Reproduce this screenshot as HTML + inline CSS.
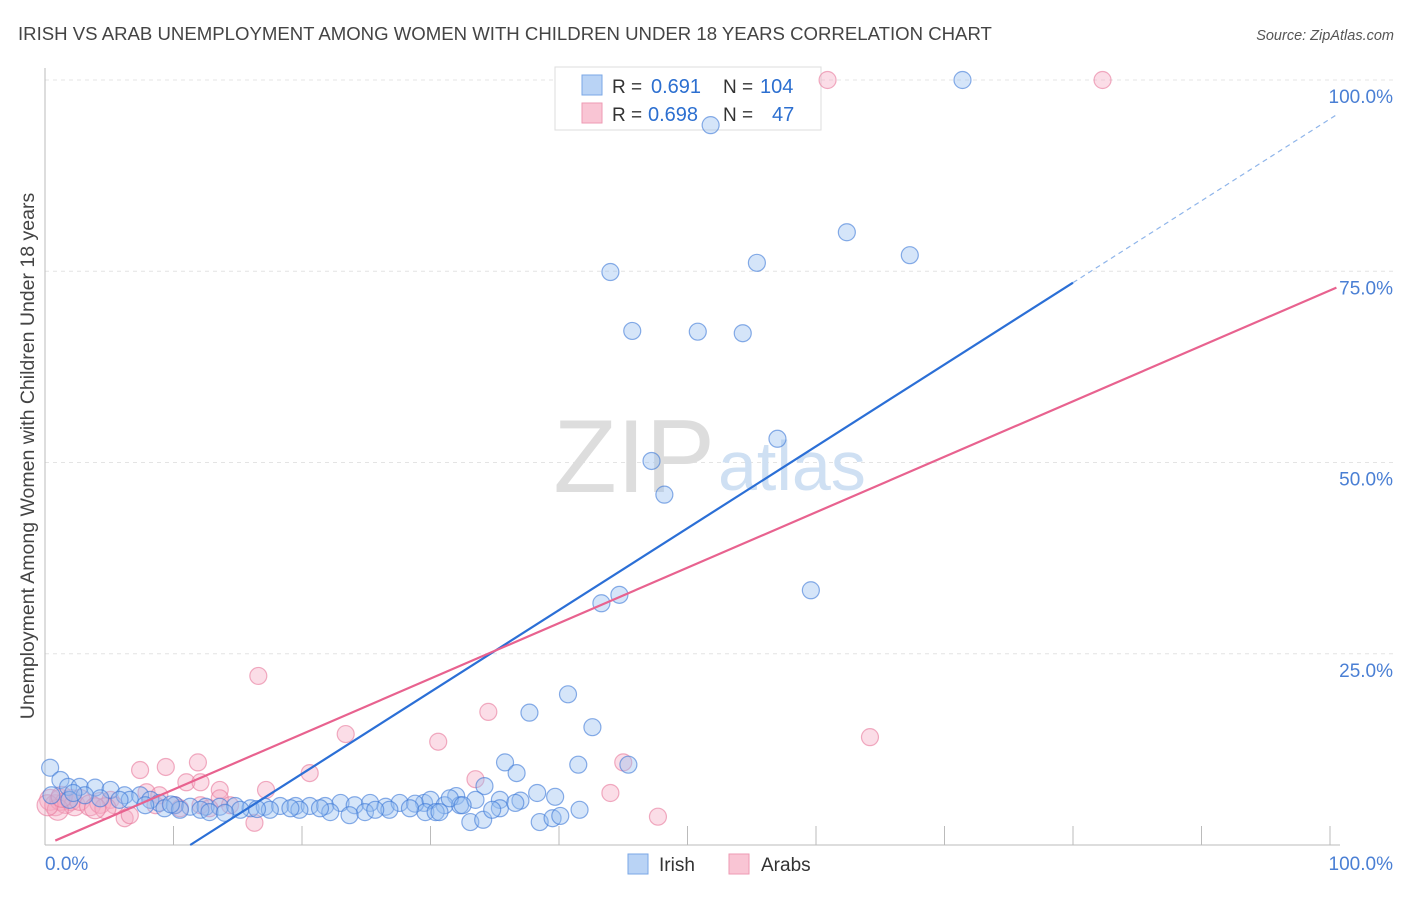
<!DOCTYPE html>
<html><head><meta charset="utf-8"><style>
body{margin:0;background:#fff;font-family:"Liberation Sans",sans-serif;}
svg text{font-family:"Liberation Sans",sans-serif;}
</style></head><body>
<svg id="c" width="1406" height="892" xmlns="http://www.w3.org/2000/svg">
<text x="18" y="40" font-size="18.6" fill="#444">IRISH VS ARAB UNEMPLOYMENT AMONG WOMEN WITH CHILDREN UNDER 18 YEARS CORRELATION CHART</text>
<text x="1394" y="40" font-size="14.5" fill="#555" font-style="italic" text-anchor="end">Source: ZipAtlas.com</text>
<text transform="translate(34,456) rotate(-90)" font-size="19.5" fill="#444" text-anchor="middle">Unemployment Among Women with Children Under 18 years</text>
<g id="grid"></g>
<text x="715" y="492" font-size="104" fill="#ddd" font-family="Liberation Serif" text-anchor="end">ZIP</text>
<text x="718" y="490" font-size="70" fill="#cfe0f3">atlas</text>
<g>
<rect x="555" y="67" width="266" height="63" fill="#fff" stroke="#ddd"/>
<rect x="582" y="75" width="20" height="20" fill="#b9d3f5" stroke="#7aa7e6"/>
<rect x="582" y="103" width="20" height="20" fill="#f9c5d4" stroke="#ee9ab3"/>
<text x="612" y="93" font-size="19" fill="#333">R =</text>
<text x="651" y="93" font-size="20" fill="#2c6fd0">0.691</text>
<text x="723" y="93" font-size="19" fill="#333">N =</text>
<text x="760" y="93" font-size="20" fill="#2c6fd0">104</text>
<text x="612" y="121" font-size="19" fill="#333">R =</text>
<text x="648" y="121" font-size="20" fill="#2c6fd0">0.698</text>
<text x="723" y="121" font-size="19" fill="#333">N =</text>
<text x="772" y="121" font-size="20" fill="#2c6fd0">47</text>
</g>
<g id="pts"></g>
<g id="lines"></g>
<g>
<rect x="628" y="854" width="20" height="20" fill="#b9d3f5" stroke="#7aa7e6"/>
<text x="659" y="871" font-size="19" fill="#333">Irish</text>
<rect x="729" y="854" width="20" height="20" fill="#f9c5d4" stroke="#ee9ab3"/>
<text x="761" y="871" font-size="19" fill="#333">Arabs</text>
</g>
</svg>
<script>
const irishX=[71.4,51.8,44.0,45.7,50.8,54.3,55.4,62.4,67.3,57.0,47.2,48.2,43.3,44.7,59.6,40.7,37.7,42.6,35.8,41.5,45.4,36.7,34.2,32.0,29.5,
0.4,1.2,1.8,2.7,3.9,5.1,6.2,7.4,8.2,8.9,10.1,11.3,12.5,13.6,14.8,16.0,17.1,18.3,19.5,20.6,21.8,23.0,24.1,25.3,26.5,27.6,28.8,30.0,31.1,32.3,33.5,35.4,37.0,38.3,39.7,
26.8,24.9,29.6,33.1,34.1,38.5,39.5,40.1,41.6,35.4,31.5,30.4,22.2,19.8,17.5,15.2,12.1,4.3,6.6,9.3,10.5,12.8,14.0,19.1,21.4,23.7,25.7,28.4,30.7,32.5,34.8,36.6,0.5,1.9,3.1,5.8,7.8,2.2,9.8,16.5];
const irishY=[100,94.1,74.9,67.2,67.1,66.9,76.1,80.1,77.1,53.1,50.2,45.8,31.6,32.7,33.3,19.7,17.3,15.4,10.8,10.5,10.5,9.4,7.7,6.4,5.5,
10.1,8.5,7.6,7.6,7.5,7.2,6.5,6.5,5.9,5.5,5.2,5.0,5.0,5.0,5.1,4.8,5.0,5.1,5.1,5.1,5.1,5.5,5.2,5.5,5.0,5.5,5.4,5.9,5.2,5.2,5.9,5.9,5.8,6.8,6.3,
4.6,4.3,4.3,3.0,3.3,3.0,3.5,3.8,4.6,4.8,6.1,4.3,4.3,4.6,4.6,4.6,4.6,6.1,5.9,4.8,4.6,4.3,4.2,4.8,4.8,3.9,4.6,4.8,4.3,5.2,4.6,5.5,6.5,5.9,6.5,5.9,5.2,6.8,5.3,4.7];
const arabX=[82.3,60.9,16.6,34.5,23.4,30.6,64.2,45.0,33.5,44.0,47.7,20.6,7.4,9.4,11.9,11.0,12.1,13.6,7.9,8.9,17.2,16.3,6.2,6.6,13.6,
0.4,0.8,1.2,1.6,2.0,2.3,2.7,3.5,4.3,5.1,5.4,4.7,8.6,10.1,10.5,12.1,12.8,14.4,3.9,1.0,0.2,1.3];
const arabY=[100,100,22.1,17.4,14.5,13.5,14.1,10.8,8.6,6.8,3.7,9.4,9.8,10.2,10.8,8.2,8.2,7.2,6.9,6.5,7.2,2.9,3.5,3.9,6.1,
5.9,5.2,5.9,5.5,5.9,5.2,5.9,5.2,5.5,5.9,5.2,4.8,5.2,5.2,4.8,5.2,4.8,5.2,4.8,4.6,5.2,6.3];
const yTicks=["25.0%","50.0%","75.0%","100.0%"];
const xs=v=>45+v*12.85, ys=v=>845-v*7.65;
const NS="http://www.w3.org/2000/svg";
function mk(tag,attrs,parent){const e=document.createElementNS(NS,tag);for(const k in attrs)e.setAttribute(k,attrs[k]);parent.appendChild(e);return e;}
const grid=document.getElementById('grid');
[25,50,75,100].forEach((v,i)=>{
 const l=mk('line',{x1:45,x2:1394,y1:ys(v),y2:ys(v),stroke:'#e4e4e4','stroke-dasharray':'4,4'},grid);
 
 
 const t=mk('text',{x:1393,y:ys(v)+23,'font-size':19,fill:'#4a7fd4','text-anchor':'end'},grid);
 t.textContent=yTicks[i];
 
 
});
mk('line',{x1:45,x2:45,y1:68,y2:845,stroke:'#bbb'},grid);
mk('line',{x1:45,x2:1340,y1:845,y2:845,stroke:'#bbb'},grid);
for(let i=1;i<=10;i++){const tk=mk('line',{x1:xs(i*10),x2:xs(i*10),y1:826,y2:845,stroke:'#bbb'},grid);
 
 }
const x0=mk('text',{x:45,y:870,'font-size':19,fill:'#4a7fd4'},grid);x0.textContent='0.0%';


const x1=mk('text',{x:1393,y:870,'font-size':19,fill:'#4a7fd4','text-anchor':'end'},grid);x1.textContent='100.0%';


const pts=document.getElementById('pts');
arabX.forEach((x,i)=>{const c=mk('circle',{cx:xs(x),cy:ys(arabY[i]),r:(x<5?10.5:8.5),fill:'rgba(246,170,195,0.4)',stroke:'rgba(232,120,155,0.6)','stroke-width':1.2},pts);
 
 });
irishX.forEach((x,i)=>{const c=mk('circle',{cx:xs(x),cy:ys(irishY[i]),r:8.5,fill:'rgba(150,190,240,0.4)',stroke:'rgba(60,120,215,0.6)','stroke-width':1.2},pts);
 
 });
const lines=document.getElementById('lines');
const bl=[-11.3*1.07,1.07], pl=[0,0.725];
let a=mk('line',{x1:xs(11.3),y1:ys(0),x2:xs(80),y2:ys(bl[0]+bl[1]*80),stroke:'#2b6fd6','stroke-width':2.2},lines);

a=mk('line',{x1:xs(80),y1:ys(bl[0]+bl[1]*80),x2:xs(100.5),y2:ys(bl[0]+bl[1]*100.5),stroke:'#8fb5ea','stroke-width':1.2,'stroke-dasharray':'5,4'},lines);

a=mk('line',{x1:xs(0.8),y1:ys(pl[1]*0.8),x2:xs(100.5),y2:ys(pl[1]*100.5),stroke:'#e8628f','stroke-width':2.2},lines);

</script>
</body></html>
